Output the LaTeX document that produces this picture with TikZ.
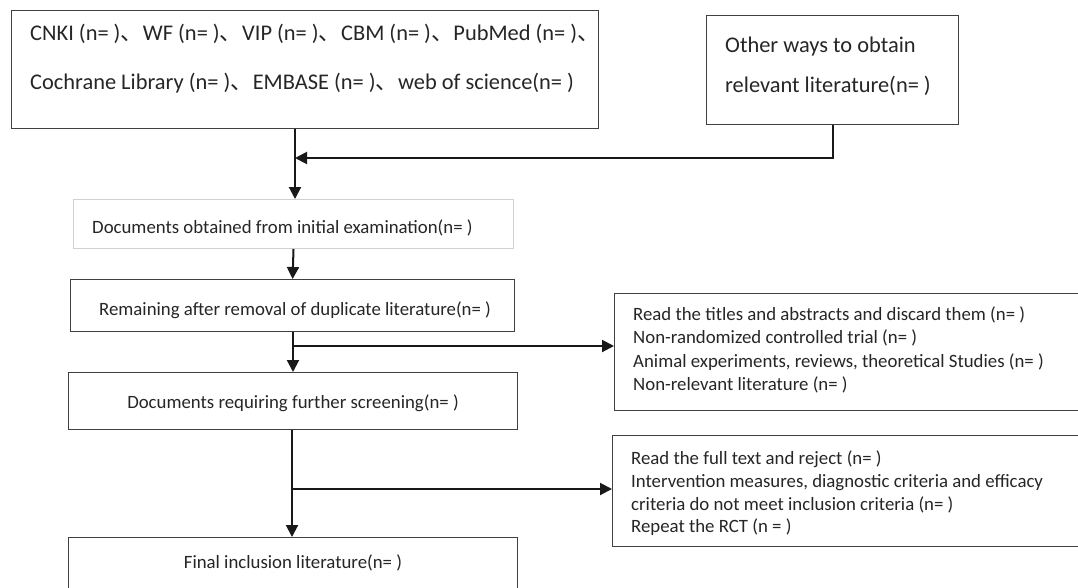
\documentclass[tikz,border=0pt]{standalone}
\usepackage{fontspec}
\setmainfont{Carlito}
\newfontfamily\cjk{Noto Sans CJK SC}
\usetikzlibrary{arrows.meta,calc}
\newcommand{\dun}{{\cjk 、}}
\begin{document}
\begin{tikzpicture}[x=1pt,y=-1pt,
  box/.style={draw=black!75, line width=1.2pt, anchor=north west, inner sep=0pt},
  lbox/.style={draw=black!18, line width=1pt, anchor=north west, inner sep=0pt},
  txt/.style={inner sep=0pt, text=black!85},
  big/.style={txt, font=\fontsize{22.4}{26}\selectfont},
  small/.style={txt, font=\fontsize{18.8}{22}\selectfont},
  arr/.style={draw=black!90, line width=2pt, -{Triangle[length=12pt,width=12pt]}},
  ln/.style={draw=black!90, line width=2pt}]
\useasboundingbox (0,0) rectangle (1078,587);
\clip (0,0) rectangle (1078,587);
\fill[white] (0,0) rectangle (1078,587);
% boxes
\node[box, minimum width=587pt, minimum height=118pt] (b1) at (11,10) {};
\node[box, minimum width=252pt, minimum height=109pt] (b2) at (706,15) {};
\node[lbox, minimum width=440pt, minimum height=49pt] (b3) at (73,199) {};
\node[box, minimum width=444pt, minimum height=52pt] (b4) at (70,279) {};
\node[box, minimum width=490pt, minimum height=117pt] (b5) at (614,293) {};
\node[box, minimum width=449pt, minimum height=57pt] (b6) at (68,372) {};
\node[box, minimum width=490pt, minimum height=111pt] (b7) at (612,435) {};
\node[box, minimum width=449pt, minimum height=70pt] (b8) at (68,537) {};
% texts
\node[big, anchor=mid west] (t1a) at (30,38) {CNKI (n= )\dun WF (n= )\dun VIP (n= )\dun CBM (n= )\dun PubMed (n= )\dun};
\node[big, anchor=mid west] (t1b) at (30,87) {Cochrane Library (n= )\dun EMBASE (n= )\dun web of science(n= )};
\node[big, anchor=mid west] (t2a) at (725,50) {Other ways to obtain};
\node[big, anchor=mid west] (t2b) at (725,90) {relevant literature(n= )};
\node[small, anchor=mid west] (t3) at (92,231) {Documents obtained from initial examination(n= )};
\node[small, anchor=mid west] (t4) at (99,313) {Remaining after removal of duplicate literature(n= )};
\node[small, anchor=mid west] (t5a) at (633,318) {Read the titles and abstracts and discard them (n= )};
\node[small, anchor=mid west] (t5b) at (633,341) {Non-randomized controlled trial (n= )};
\node[small, anchor=mid west] (t5c) at (633,365) {Animal experiments, reviews, theoretical Studies (n= )};
\node[small, anchor=mid west] (t5d) at (633,388) {Non-relevant literature (n= )};
\node[small, anchor=mid] (t6) at (293,406) {Documents requiring further screening(n= )};
\node[small, anchor=mid west] (t7a) at (631,462) {Read the full text and reject (n= )};
\node[small, anchor=mid west] (t7b) at (631,485) {Intervention measures, diagnostic criteria and efficacy};
\node[small, anchor=mid west] (t7c) at (631,508) {criteria do not meet inclusion criteria (n= )};
\node[small, anchor=mid west] (t7d) at (631,530) {Repeat the RCT (n = )};
\node[small, anchor=mid] (t8) at (293,566) {Final inclusion literature(n= )};
% connectors
\coordinate (j1) at (295,158);
\coordinate (j2) at (293,346);
\coordinate (j3) at (292,489);
\draw[arr] (b1.south -| j1) -- (j1 |- b3.north);
\draw[arr] (b2.south) |- (j1);
\draw[arr] (b3.south) -- (b4.north);
\draw[arr] (b4.south -| j2) -- (j2 |- b6.north);
\draw[arr] (j2) -- (j2 -| b5.west);
\draw[arr] (b6.south -| j3) -- (j3 |- b8.north);
\draw[arr] (j3) -- (j3 -| b7.west);
\end{tikzpicture}
\end{document}
